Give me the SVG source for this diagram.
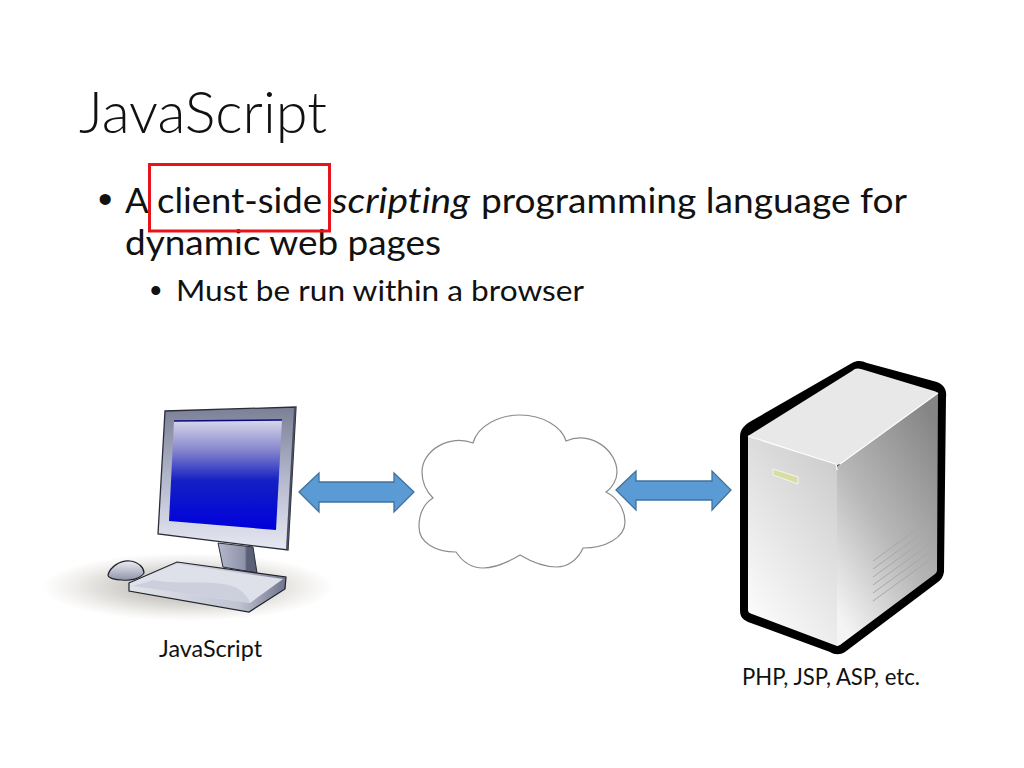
<svg xmlns="http://www.w3.org/2000/svg" width="1024" height="768" viewBox="0 0 1024 768">
<style>
text{font-family:Lato,"Open Sans","Liberation Sans",sans-serif;fill:#111;font-variant-ligatures:none}
.l1{font-size:35px}.l2{font-size:28px}.cap{font-size:24px}
.dot{font-family:"Liberation Sans",Arial,sans-serif}
.arrow{fill:#5b9bd5;stroke:#41719c;stroke-width:1.3}
</style>
<defs>
<linearGradient id="screen" x1="0" y1="0" x2="0" y2="1"><stop offset="0" stop-color="#d8d8ea"/><stop offset=".28" stop-color="#8484cc"/><stop offset=".55" stop-color="#1420c4"/><stop offset="1" stop-color="#0000dc"/></linearGradient>
<linearGradient id="bezel" x1="0" y1="0" x2="0" y2="1"><stop offset="0" stop-color="#7c8096"/><stop offset=".5" stop-color="#b4b8cc"/><stop offset="1" stop-color="#e6e8f2"/></linearGradient>
<linearGradient id="stand" x1="0" y1="0" x2="1" y2="0"><stop offset="0" stop-color="#b4b8cc"/><stop offset=".68" stop-color="#8f93aa"/><stop offset=".74" stop-color="#5c6076"/></linearGradient>
<linearGradient id="mouse" x1="0" y1="0" x2="0" y2="1"><stop offset="0" stop-color="#ecedf3"/><stop offset="1" stop-color="#8f93a8"/></linearGradient>
<linearGradient id="kside" x1="0" y1="0" x2="1" y2="0"><stop offset="0" stop-color="#e2e4ec"/><stop offset=".7" stop-color="#c0c3d2"/><stop offset="1" stop-color="#70748c"/></linearGradient>
<radialGradient id="shadow"><stop offset="0" stop-color="#aeaba2"/><stop offset=".5" stop-color="#d6d4d0"/><stop offset=".8" stop-color="#f1f0ee"/><stop offset="1" stop-color="#fff"/></radialGradient>
<linearGradient id="sleft" x1=".75" y1="0" x2=".2" y2="1"><stop offset="0" stop-color="#cdcdcd"/><stop offset="1" stop-color="#fdfdfd"/></linearGradient>
<linearGradient id="sright" x1=".8" y1="0" x2=".2" y2="1"><stop offset="0" stop-color="#858585"/><stop offset=".55" stop-color="#b8b8b8"/><stop offset="1" stop-color="#f4f4f4"/></linearGradient>
</defs>
<rect width="1024" height="768" fill="#fff"/>
<g id="title"><text x="79" y="133" font-size="58" font-weight="300" textLength="248" lengthAdjust="spacingAndGlyphs">JavaScript</text></g>
<g id="body">
<text class="dot" x="98" y="213" font-size="41">•</text>
<text class="l1" x="125" y="213">A</text>
<text class="l1" x="157" y="213" textLength="165" lengthAdjust="spacingAndGlyphs">client-side</text>
<text class="l1" x="332" y="213" textLength="138" lengthAdjust="spacingAndGlyphs" font-style="italic">scripting</text>
<text class="l1" x="481" y="213" textLength="426" lengthAdjust="spacingAndGlyphs">programming language for</text>
<text class="l1" x="125" y="255" textLength="316" lengthAdjust="spacingAndGlyphs">dynamic web pages</text>
<text class="dot" x="150" y="302" font-size="33">•</text>
<text class="l2" x="176" y="301" textLength="408" lengthAdjust="spacingAndGlyphs">Must be run within a browser</text>
</g>
<g id="highlight"><rect x="149.500" y="164.500" width="180" height="66.500" fill="none" stroke="#e8141c" stroke-width="3"/></g>
<g id="computer">
<ellipse cx="188" cy="587" rx="146" ry="34" fill="url(#shadow)"/>
<path d="M158 534L165 411L296 407L288 550Z" fill="url(#bezel)" stroke="#2a2c38" stroke-width="1.300"/>
<path d="M294 408L296 407L288 550L286 549Z" fill="#4a4d60"/>
<path d="M174 421L282 420L276 530L169 521Z" fill="url(#screen)"/>
<path d="M174 421L282 420" fill="none" stroke="#0a0a80" stroke-width="1.500"/>
<path d="M218 543L253 547L257 573L223 567Z" fill="url(#stand)" stroke="#2c2e3a" stroke-width="1"/>
<path d="M108 575C110 567 120 560 130 561C139 562 144 568 144 573C140 579 130 581 122 580C115 580 108 578 108 575Z" fill="url(#mouse)" stroke="#20222c" stroke-width="1.200"/>
<path d="M129 583L177 562L286 577L285 589L249 612L129 591Z" fill="url(#kside)" stroke="#20222c" stroke-width="1.200"/>
<path d="M131 583L177 564L283 579L250 603L133 586Z" fill="#dfe1ea"/>
<path d="M153 580C180 586 215 578 237 588C245 593 250 600 250 603L133 586Z" fill="#cdd0dc"/>
</g>
<g id="connectors">
<path class="arrow" d="M299 492L319 473V482H394V473L414 492L394 512V502H319V512Z"/>
<path class="arrow" d="M616 490L636 471V481H712V471L731 490L712 510V500H636V510Z"/>
</g>
<g id="cloud"><path d="M473 443C478 425 500 415 520 415C543 415 562 427 566 441C590 430 617 450 617 472C617 480 612 488 606 492C618 498 625 510 625 522C625 538 605 548 583 548C578 560 567 567 557 567C543 567 530 561 520 555C510 561 497 568 483 568C471 568 462 561 456 552C436 552 419 543 419 527C419 513 425 503 433 498C426 491 422 482 422 472C422 450 450 434 473 443Z" fill="#fff" stroke="#8c8c8c" stroke-width="1.200"/></g>
<g id="server">
<path d="M740 437C740 428 746 424 753 420L852 363C858 360 862 361 867 363L937 382C944 385 947 390 946 397L944 572C943 577 941 580 938 582L845 652C840 655 835 655 830 652L748 622C742 619 740 616 740 610Z" fill="#000"/>
<path d="M748 436L837 465C837 465 837 465 837 470V646L752 614C749 613 748 612 748 610Z" fill="url(#sleft)"/>
<path d="M837 470C837 467 838 465 840 464L938 393L937 570C937 572 936 573 935 574L840 645C838 646 837 646 837 646Z" fill="url(#sright)"/>
<path d="M748 436L852 371C855 368 858 368 861 369L934 391C936 392 937 392 938 393L840 464C838 465 837 465 837 465Z" fill="#e8e8e8"/>
<path d="M748 436L835 464C837 465 837 466 837 470M840 464L938 393" fill="none" stroke="#fff" stroke-width="1.300"/>
<path d="M773 469L798 477V484L773 475Z" fill="#d8dea2" stroke="#f4f4f4" stroke-width="1"/>
<path d="M873 561L931 519M873 569L931 527M873 577L931 535M873 585L931 543M873 593L931 551M873 601L931 559" fill="none" stroke="#a8a8a8" stroke-width="1"/>
</g>
<g id="labels">
<text class="cap" x="159" y="657" textLength="103" lengthAdjust="spacingAndGlyphs">JavaScript</text>
<text class="cap" x="742" y="685" textLength="178" lengthAdjust="spacingAndGlyphs">PHP, JSP, ASP, etc.</text>
</g>
</svg>
